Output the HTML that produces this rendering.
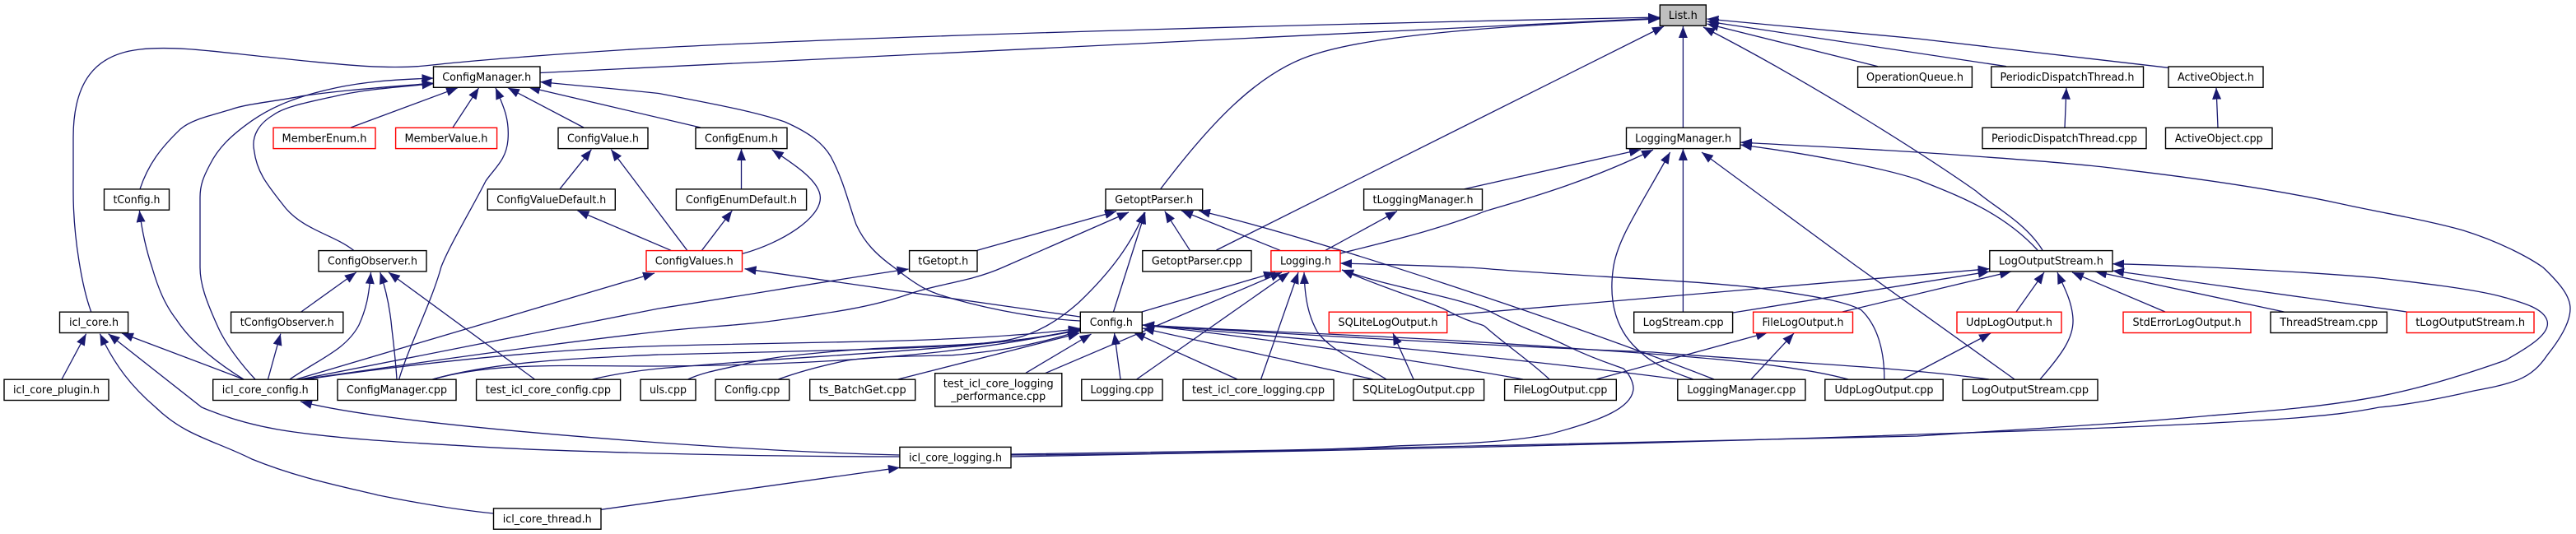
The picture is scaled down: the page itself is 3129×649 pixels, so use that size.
<!DOCTYPE html>
<html><head><meta charset="utf-8"><style>
html,body{margin:0;padding:0;background:#fff}
svg{display:block}
.e{fill:none;stroke:#191970;stroke-width:1.3;marker-start:url(#a)}
.b{fill:#fff;stroke:#000;stroke-width:1.4}
.r{fill:#fff;stroke:#f00;stroke-width:1.4}
text{font-family:"DejaVu Sans",sans-serif;font-size:13.33px;fill:#000;text-anchor:middle}
</style></head><body>
<svg xmlns="http://www.w3.org/2000/svg" width="3129" height="649" viewBox="0 0 3129 649">
<defs><marker id="a" markerUnits="userSpaceOnUse" markerWidth="14" markerHeight="11" refX="14" refY="5.5" orient="auto-start-reverse"><path d="M0,0 L14,5.5 L0,11 z" fill="#191970"/></marker></defs>
<rect width="3129" height="649" fill="#fff"/>
<g>
<path class="e" d="M2016,22 L656,88.5"/>
<path class="e" d="M2016,21 C1700,27 1100,42 800,58 C680,65 570,74 525,79 C470,86 400,77 332,70 C270,64 215,55 170,60 C115,66 89,100 89,167 L89,233 C89,290 100,350 110.7,379"/>
<path class="e" d="M2016,23 C1850,30 1680,40 1600,65 C1530,85 1470,150 1409.7,229.7"/>
<path class="e" d="M2021,32 L1477.5,304"/>
<path class="e" d="M2044.4,32 L2044.4,155"/>
<path class="e" d="M2069,33 C2200,100 2340,190 2400,232 C2420,250 2460,270 2481,304"/>
<path class="e" d="M2073.5,29 L2281,80.7"/>
<path class="e" d="M2073.5,26 L2437,80.7"/>
<path class="e" d="M2073.5,23 L2329,47 L2634,82.3"/>
<path class="e" d="M526.5,101 C470,106 420,109 367,116.7 C330,124 300,126 280.6,133 C250,142 232,146 219.4,156.7 C195,180 180,200 170,229.7"/>
<path class="e" d="M526.5,95 C470,97 440,100 408,106.7 C360,117 330,130 306,146.7 C280,165 265,180 255,200 C247,215 243,225 243,240 L243,325 C243,345 250,365 265,398 C275,420 295,445 310,461"/>
<path class="e" d="M526.5,101.7 C480,106 440,109 408,116.7 C370,125 345,130 331.6,140 C315,150 305,165 308.7,183 C312,210 325,225 347,253 C370,280 405,285 429.6,304.3"/>
<path class="e" d="M556,106.7 L426,155"/>
<path class="e" d="M581.6,106.7 L550,155"/>
<path class="e" d="M602,106.7 C612,130 619,145 617,170 C615,195 600,205 590,220 C575,250 545,300 535.7,325 C525,365 495,425 484.7,461"/>
<path class="e" d="M617,106.7 L709,155"/>
<path class="e" d="M642,106 L851,155"/>
<path class="e" d="M656,99.5 C710,105 750,108 800,113.5 C860,125 915,135 953,148 C985,162 1000,175 1009,190 C1025,220 1030,245 1040,273 C1050,295 1065,310 1086,325 C1120,352 1130,355 1157,363 C1210,378 1270,388 1312,390"/>
<path class="e" d="M718.4,181.7 L680,229.7"/>
<path class="e" d="M742.3,181.7 L834.7,304.3"/>
<path class="e" d="M701.5,256 L815,304.3"/>
<path class="e" d="M900.5,181 L900.5,229.7"/>
<path class="e" d="M889.3,256 L852.5,304.3"/>
<path class="e" d="M937.8,182 C965,200 996,220 996.4,240 C997,265 950,295 902,308.3"/>
<path class="e" d="M169.4,256 C173,285 178,305 184.7,325 C192,350 200,370 214,388 C235,420 270,445 296,461"/>
<path class="e" d="M432.7,331 L365.8,379"/>
<path class="e" d="M450.5,331 C448,360 445,375 436,395 C420,425 390,435 352,461"/>
<path class="e" d="M461.7,331 C470,355 474,378 476,400 C479,425 481,445 482,461"/>
<path class="e" d="M472,331 L649.5,461"/>
<path class="e" d="M340.8,405.7 L325.5,461"/>
<path class="e" d="M104.6,405.7 L75,461"/>
<path class="e" d="M148,405 L296,461"/>
<path class="e" d="M131.6,405.7 L245,495 C280,510 320,520 357,525 C430,535 500,538 561,541.7 C650,548 900,555 1093,555"/>
<path class="e" d="M121.4,405.7 C140,445 160,470 189,495 C225,530 260,535 306,558 C360,580 410,590 459,601.7 C510,612 560,620 599.5,624"/>
<path class="e" d="M1092.9,568.3 L730,619.3"/>
<path class="e" d="M365,488 C450,510 650,527 800,538 C900,545 1000,551 1093,553"/>
<path class="e" d="M795,332 L360,461"/>
<path class="e" d="M1103.6,327 C1000,342 900,360 800,375 C650,405 500,435 365,461"/>
<path class="e" d="M1371,258 L1218,325 C1180,342 1140,345 1106,356.7 C1060,373 1010,380 953,388 C900,396 850,397 800,403 C650,420 480,445 368,461"/>
<path class="e" d="M1312,399 C1250,408 1150,413 1055,415 C950,418 880,418 800,420.5 C650,425 480,445 372,461"/>
<path class="e" d="M1390,258 C1375,295 1350,330 1310,368 C1285,390 1260,405 1230,412 C1180,423 1050,425 800,431 C690,436 600,440 525.5,461"/>
<path class="e" d="M1312,400 C1200,425 1050,443 800,445 C680,445 600,440 525.5,461"/>
<path class="e" d="M1391,258 L1352.5,379"/>
<path class="e" d="M1356,256.7 L1187,304.3"/>
<path class="e" d="M1414.8,256.7 L1445.4,304.3"/>
<path class="e" d="M1435,256 L1555,304.3"/>
<path class="e" d="M1456,256 C1600,290 1900,390 2082,461"/>
<path class="e" d="M904.6,326.7 L1312,385"/>
<path class="e" d="M1312,400 C1210,425 1000,430 800,448 C770,451 745,455 719.4,461"/>
<path class="e" d="M1312,401 C1200,425 1100,418 1004,428 C960,432 930,435 902,443 C880,448 855,452 835.7,461"/>
<path class="e" d="M1312,402 C1250,422 1200,428 1157,431.7 C1110,433 1060,433 1029.6,438 C1000,444 970,452 945.4,461"/>
<path class="e" d="M1311,405 L1090.8,461"/>
<path class="e" d="M1325.5,406 L1246,453.3"/>
<path class="e" d="M1353.6,405 L1361,461"/>
<path class="e" d="M1377,404 L1503,461"/>
<path class="e" d="M1388,399 L1668,461"/>
<path class="e" d="M1388,395 C1500,407 1700,434 1850,461"/>
<path class="e" d="M1388,395 C1500,404 1800,430 2038.8,461"/>
<path class="e" d="M1388,395 C1500,402 1700,408 1906,423 C2000,430 2160,438 2245,461"/>
<path class="e" d="M1388,395 C1500,402 1800,420 2008,428 C2150,440 2300,445 2416,461"/>
<path class="e" d="M1549,331 L1387,379"/>
<path class="e" d="M1557,331 L1269.4,453.7"/>
<path class="e" d="M1566,331 L1380.6,461"/>
<path class="e" d="M1577,331 L1531.6,461"/>
<path class="e" d="M1584,331 C1585,365 1590,385 1600,403 C1615,425 1650,440 1684,461"/>
<path class="e" d="M1630,328 C1680,350 1730,365 1753,375 C1790,395 1800,393 1804,397 C1830,420 1860,440 1882,461"/>
<path class="e" d="M1628,320 C1700,322 1750,323 1799,326 C1900,335 2050,340 2135.7,350 C2190,358 2240,365 2260.7,376.7 C2280,395 2289,425 2288.8,461"/>
<path class="e" d="M1697,256.7 L1610,304.3"/>
<path class="e" d="M2008,182 C1930,220 1860,240 1804,256.7 C1750,278 1700,290 1628,308"/>
<path class="e" d="M1993,181.7 L1778.6,229.7"/>
<path class="e" d="M2028.6,185 C1990,255 1965,290 1959.7,325 C1953,370 1965,405 1993,428 C2010,445 2040,455 2056.6,461"/>
<path class="e" d="M2044.4,181 L2044.4,379"/>
<path class="e" d="M2067,185 L2253,322 L2447,461"/>
<path class="e" d="M2114,173 C2200,178 2300,182 2400,190 C2500,197 2560,203 2584,206.7 C2680,218 2770,232 2839,246.7 C2900,260 2950,268 2992,280 C3040,295 3075,315 3089,325 C3110,345 3122,360 3122,375 C3122,395 3105,418 3094,431.7 C3085,445 3075,455 3058.6,461.7 C3030,472 3010,473 2992,478 C2960,485 2925,492 2890,495 C2850,503 2820,505 2788,508 C2650,518 2450,524 2329,528 C2000,540 1600,548 1228,555"/>
<path class="e" d="M2114,176 C2200,187 2290,205 2329,218 C2370,235 2430,255 2475,304"/>
<path class="e" d="M2566,320.7 C2640,322 2800,330 2890,338 C2950,345 3010,352 3043,361.7 C3065,368 3090,375 3094,390 C3098,405 3075,420 3043,438 C2995,455 2940,472 2890,481.7 C2820,495 2750,500 2686,505 C2580,515 2450,522 2329,530 C2000,538 1600,548 1228,552"/>
<path class="e" d="M1630,328 C1690,350 1760,358 1809,378 C1850,400 1880,408 1906,421.7 C1940,438 1965,445 1972,448 C1982,457 1985,470 1983.7,475 C1980,495 1950,510 1880.6,528 C1830,538 1760,540 1702,541.7 C1600,548 1400,552 1228,553"/>
<path class="e" d="M2416.7,326.7 L1757.7,383.3"/>
<path class="e" d="M2416.7,330 L2105,380"/>
<path class="e" d="M2443,330 L2237.8,379"/>
<path class="e" d="M2483,331 L2449,379"/>
<path class="e" d="M2499,331 C2505,345 2517,365 2518,388 C2519,410 2505,430 2478,461"/>
<path class="e" d="M2517,331 L2630,379"/>
<path class="e" d="M2545,330 L2774.4,379"/>
<path class="e" d="M2566,329 L2923.4,379"/>
<path class="e" d="M1692,405 L1717,461"/>
<path class="e" d="M2147,404.3 L1939,461"/>
<path class="e" d="M2179,405 L2127,461"/>
<path class="e" d="M2418,405 L2311.7,461"/>
<path class="e" d="M2510,106.7 L2508,155"/>
<path class="e" d="M2692,106.7 L2694,155"/>
</g>
<g>
<rect x="2016.3" y="6" width="56" height="25.3" fill="#bfbfbf" stroke="#000" stroke-width="1.4"/><text x="2044.3" y="23" textLength="35" lengthAdjust="spacingAndGlyphs">List.h</text>
<rect class="b" x="526.5" y="81" width="129.5" height="25.3"/><text x="591.2" y="98" textLength="108" lengthAdjust="spacingAndGlyphs">ConfigManager.h</text>
<rect class="b" x="2256.6" y="81" width="138.8" height="25.3"/><text x="2326" y="98" textLength="118" lengthAdjust="spacingAndGlyphs">OperationQueue.h</text>
<rect class="b" x="2418.8" y="81" width="184.7" height="25.3"/><text x="2511" y="98" textLength="163" lengthAdjust="spacingAndGlyphs">PeriodicDispatchThread.h</text>
<rect class="b" x="2634" y="81" width="115" height="25.3"/><text x="2691.5" y="98" textLength="93" lengthAdjust="spacingAndGlyphs">ActiveObject.h</text>
<rect class="r" x="332" y="155.3" width="124" height="25.3"/><text x="394" y="172.3" textLength="103" lengthAdjust="spacingAndGlyphs">MemberEnum.h</text>
<rect class="r" x="480.6" y="155.3" width="123" height="25.3"/><text x="542" y="172.3" textLength="101" lengthAdjust="spacingAndGlyphs">MemberValue.h</text>
<rect class="b" x="678" y="155.3" width="109" height="25.3"/><text x="732.5" y="172.3" textLength="87" lengthAdjust="spacingAndGlyphs">ConfigValue.h</text>
<rect class="b" x="845" y="155.3" width="111" height="25.3"/><text x="900.5" y="172.3" textLength="89" lengthAdjust="spacingAndGlyphs">ConfigEnum.h</text>
<rect class="b" x="1975.5" y="155.3" width="138.3" height="25.3"/><text x="2044.6" y="172.3" textLength="117" lengthAdjust="spacingAndGlyphs">LoggingManager.h</text>
<rect class="b" x="2408" y="155.3" width="199" height="25.3"/><text x="2507.5" y="172.3" textLength="177" lengthAdjust="spacingAndGlyphs">PeriodicDispatchThread.cpp</text>
<rect class="b" x="2630.5" y="155.3" width="129.5" height="25.3"/><text x="2695.2" y="172.3" textLength="107" lengthAdjust="spacingAndGlyphs">ActiveObject.cpp</text>
<rect class="b" x="126.5" y="229.9" width="79" height="25.3"/><text x="166" y="246.9" textLength="57" lengthAdjust="spacingAndGlyphs">tConfig.h</text>
<rect class="b" x="592.3" y="229.9" width="155" height="25.3"/><text x="669.8" y="246.9" textLength="133" lengthAdjust="spacingAndGlyphs">ConfigValueDefault.h</text>
<rect class="b" x="821.4" y="229.9" width="158.2" height="25.3"/><text x="900.5" y="246.9" textLength="135" lengthAdjust="spacingAndGlyphs">ConfigEnumDefault.h</text>
<rect class="b" x="1343" y="229.9" width="117.7" height="25.3"/><text x="1401.8" y="246.9" textLength="95" lengthAdjust="spacingAndGlyphs">GetoptParser.h</text>
<rect class="b" x="1656.6" y="229.9" width="143.9" height="25.3"/><text x="1728.5" y="246.9" textLength="122" lengthAdjust="spacingAndGlyphs">tLoggingManager.h</text>
<rect class="b" x="387" y="304.6" width="131" height="25.3"/><text x="452.5" y="321.6" textLength="109" lengthAdjust="spacingAndGlyphs">ConfigObserver.h</text>
<rect class="r" x="785" y="304.6" width="116.5" height="25.3"/><text x="843.2" y="321.6" textLength="95" lengthAdjust="spacingAndGlyphs">ConfigValues.h</text>
<rect class="b" x="1104.6" y="304.6" width="82.4" height="25.3"/><text x="1145.8" y="321.6" textLength="61" lengthAdjust="spacingAndGlyphs">tGetopt.h</text>
<rect class="b" x="1387.8" y="304.6" width="132.2" height="25.3"/><text x="1453.9" y="321.6" textLength="110" lengthAdjust="spacingAndGlyphs">GetoptParser.cpp</text>
<rect class="r" x="1543.9" y="304.6" width="84.1" height="25.3"/><text x="1586" y="321.6" textLength="62" lengthAdjust="spacingAndGlyphs">Logging.h</text>
<rect class="b" x="2416.8" y="304.6" width="149.2" height="25.3"/><text x="2491.4" y="321.6" textLength="127" lengthAdjust="spacingAndGlyphs">LogOutputStream.h</text>
<rect class="b" x="72.5" y="379.2" width="83.1" height="25.3"/><text x="114" y="396.2" textLength="60" lengthAdjust="spacingAndGlyphs">icl_core.h</text>
<rect class="b" x="280.6" y="379.2" width="136.2" height="25.3"/><text x="348.7" y="396.2" textLength="114" lengthAdjust="spacingAndGlyphs">tConfigObserver.h</text>
<rect class="b" x="1312.3" y="379.2" width="75" height="25.3"/><text x="1349.8" y="396.2" textLength="52" lengthAdjust="spacingAndGlyphs">Config.h</text>
<rect class="r" x="1614.3" y="379.2" width="143.4" height="25.3"/><text x="1686" y="396.2" textLength="121" lengthAdjust="spacingAndGlyphs">SQLiteLogOutput.h</text>
<rect class="b" x="1984.7" y="379.2" width="119.9" height="25.3"/><text x="2044.6" y="396.2" textLength="98" lengthAdjust="spacingAndGlyphs">LogStream.cpp</text>
<rect class="r" x="2129.6" y="379.2" width="120.9" height="25.3"/><text x="2190" y="396.2" textLength="99" lengthAdjust="spacingAndGlyphs">FileLogOutput.h</text>
<rect class="r" x="2377" y="379.2" width="127" height="25.3"/><text x="2440.5" y="396.2" textLength="105" lengthAdjust="spacingAndGlyphs">UdpLogOutput.h</text>
<rect class="r" x="2579" y="379.2" width="155" height="25.3"/><text x="2656.5" y="396.2" textLength="132" lengthAdjust="spacingAndGlyphs">StdErrorLogOutput.h</text>
<rect class="b" x="2758" y="379.2" width="141.4" height="25.3"/><text x="2828.7" y="396.2" textLength="119" lengthAdjust="spacingAndGlyphs">ThreadStream.cpp</text>
<rect class="r" x="2923.4" y="379.2" width="154.6" height="25.3"/><text x="3000.7" y="396.2" textLength="133" lengthAdjust="spacingAndGlyphs">tLogOutputStream.h</text>
<rect class="b" x="5" y="461.2" width="127" height="25.3"/><text x="68.5" y="478.2" textLength="105" lengthAdjust="spacingAndGlyphs">icl_core_plugin.h</text>
<rect class="b" x="258.7" y="461.2" width="127" height="25.3"/><text x="322.2" y="478.2" textLength="105" lengthAdjust="spacingAndGlyphs">icl_core_config.h</text>
<rect class="b" x="410" y="461.2" width="144" height="25.3"/><text x="482" y="478.2" textLength="122" lengthAdjust="spacingAndGlyphs">ConfigManager.cpp</text>
<rect class="b" x="578.6" y="461.2" width="175" height="25.3"/><text x="666" y="478.2" textLength="152" lengthAdjust="spacingAndGlyphs">test_icl_core_config.cpp</text>
<rect class="b" x="778" y="461.2" width="67" height="25.3"/><text x="811.5" y="478.2" textLength="45" lengthAdjust="spacingAndGlyphs">uls.cpp</text>
<rect class="b" x="869" y="461.2" width="89.7" height="25.3"/><text x="913.8" y="478.2" textLength="67" lengthAdjust="spacingAndGlyphs">Config.cpp</text>
<rect class="b" x="983.7" y="461.2" width="128" height="25.3"/><text x="1047.7" y="478.2" textLength="106" lengthAdjust="spacingAndGlyphs">ts_BatchGet.cpp</text>
<rect class="b" x="1135.7" y="453.7" width="154.1" height="40.3"/><text x="1212.7" y="470.5" textLength="134" lengthAdjust="spacingAndGlyphs">test_icl_core_logging</text><text x="1212.7" y="486" textLength="115" lengthAdjust="spacingAndGlyphs">_performance.cpp</text>
<rect class="b" x="1313.8" y="461.2" width="98.2" height="25.3"/><text x="1362.9" y="478.2" textLength="77" lengthAdjust="spacingAndGlyphs">Logging.cpp</text>
<rect class="b" x="1437" y="461.2" width="183" height="25.3"/><text x="1528.5" y="478.2" textLength="161" lengthAdjust="spacingAndGlyphs">test_icl_core_logging.cpp</text>
<rect class="b" x="1643.9" y="461.2" width="158.7" height="25.3"/><text x="1723.2" y="478.2" textLength="136" lengthAdjust="spacingAndGlyphs">SQLiteLogOutput.cpp</text>
<rect class="b" x="1827.6" y="461.2" width="135.7" height="25.3"/><text x="1895.4" y="478.2" textLength="114" lengthAdjust="spacingAndGlyphs">FileLogOutput.cpp</text>
<rect class="b" x="2037.8" y="461.2" width="155.1" height="25.3"/><text x="2115.3" y="478.2" textLength="132" lengthAdjust="spacingAndGlyphs">LoggingManager.cpp</text>
<rect class="b" x="2216.8" y="461.2" width="143.4" height="25.3"/><text x="2288.5" y="478.2" textLength="120" lengthAdjust="spacingAndGlyphs">UdpLogOutput.cpp</text>
<rect class="b" x="2384" y="461.2" width="164" height="25.3"/><text x="2466" y="478.2" textLength="142" lengthAdjust="spacingAndGlyphs">LogOutputStream.cpp</text>
<rect class="b" x="1092.9" y="543.4" width="135.1" height="25.3"/><text x="1160.5" y="560.4" textLength="113" lengthAdjust="spacingAndGlyphs">icl_core_logging.h</text>
<rect class="b" x="599.5" y="617.9" width="130.5" height="25.3"/><text x="664.7" y="634.9" textLength="108" lengthAdjust="spacingAndGlyphs">icl_core_thread.h</text>
</g>
</svg>
</body></html>
